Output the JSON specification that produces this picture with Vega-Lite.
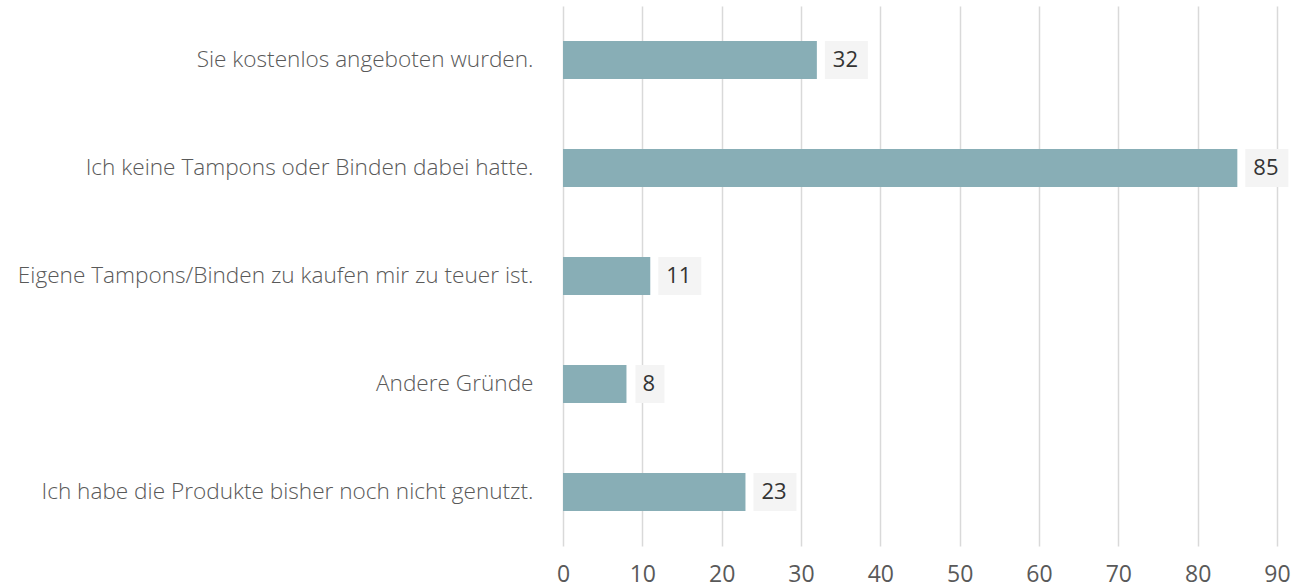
{
  "$schema": "https://vega.github.io/schema/vega-lite/v6.json",
  "autosize": "none",
  "width": 714,
  "height": 540,
  "padding": {"left": 563, "top": 6, "right": 26, "bottom": 41},
  "background": "white",
  "config": {"view": {"stroke": null}, "font": "Open Sans"},
  "data": {"values": [
    {"reason": "Sie kostenlos angeboten wurden.", "value": 32},
    {"reason": "Ich keine Tampons oder Binden dabei hatte.", "value": 85},
    {"reason": "Eigene Tampons/Binden zu kaufen mir zu teuer ist.", "value": 11},
    {"reason": "Andere Gründe", "value": 8},
    {"reason": "Ich habe die Produkte bisher noch nicht genutzt.", "value": 23}
  ]},
  "encoding": {
    "y": {"field": "reason", "type": "nominal", "sort": null,
      "scale": {"paddingInner": 0.65, "paddingOuter": 0.325},
      "axis": {"title": null, "domain": false, "ticks": false, "labelFontSize": 22.6, "labelFontWeight": 300, "labelColor": "#595959", "labelPadding": 30, "labelLimit": 600, "labelFont": "Open Sans"}}
  },
  "layer": [
    {
      "mark": {"type": "bar", "color": "#88aeb6"},
      "encoding": {
        "x": {"field": "value", "type": "quantitative",
          "scale": {"domain": [0, 90], "nice": false},
          "axis": {"title": null, "values": [0,10,20,30,40,50,60,70,80,90], "domain": false, "ticks": false, "grid": true, "gridColor": "#d9d9d9", "gridWidth": 1.5, "labelFontSize": 23, "labelColor": "#595959", "labelPadding": 17, "labelFlush": false, "labelOverlap": false, "labelFont": "Open Sans"}}
      }
    },
    {
      "transform": [{"filter": "datum.value >= 10"}],
      "mark": {"type": "bar", "color": "#f4f4f4", "xOffset": 8, "x2Offset": 51},
      "encoding": {"x": {"field": "value", "type": "quantitative"}, "x2": {"field": "value"}}
    },
    {
      "transform": [{"filter": "datum.value < 10"}],
      "mark": {"type": "bar", "color": "#f4f4f4", "xOffset": 9, "x2Offset": 38},
      "encoding": {"x": {"field": "value", "type": "quantitative"}, "x2": {"field": "value"}}
    },
    {
      "mark": {"type": "text", "align": "left", "dx": 16, "fontSize": 22, "color": "#333333", "font": "Open Sans"},
      "encoding": {"x": {"field": "value", "type": "quantitative"}, "text": {"field": "value"}}
    }
  ]
}
